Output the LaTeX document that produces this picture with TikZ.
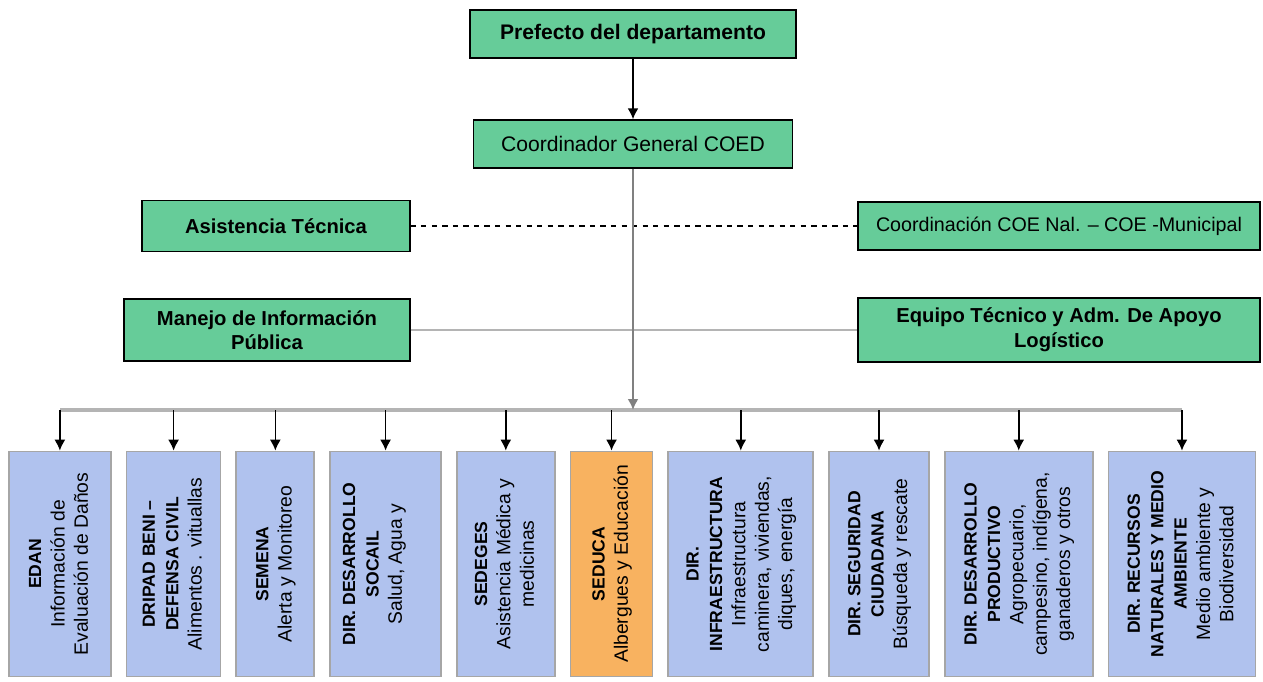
\documentclass[tikz,border=0pt]{standalone}
\usepackage{fontspec}
\setmainfont{Liberation Sans}
\usepackage{graphicx}
\usetikzlibrary{arrows.meta,positioning}

\definecolor{coegreen}{HTML}{66CC99}
\definecolor{unitblue}{HTML}{B0C2EE}
\definecolor{unitorange}{HTML}{F8B260}
\definecolor{linegray}{HTML}{B4B4B4}

\newcommand{\vlab}[1]{\rotatebox{90}{\fontsize{11}{13.3}\selectfont\begin{tabular}{@{}c@{}}#1\end{tabular}}}
\newcommand{\utitle}[1]{{\fontsize{10}{13.3}\selectfont\bfseries #1}}

\begin{document}
\begin{tikzpicture}[x=0.02cm,y=-0.02cm,node distance=0.28cm,>={Latex[length=2.2mm,width=2.2mm]},
  every node/.style={font=\fontsize{12}{14}\selectfont},
  greenbox/.style={draw=black,line width=0.8pt,fill=coegreen,align=center,inner sep=2pt},
  boldtext/.style={font=\fontsize{11.5}{14}\selectfont\bfseries},
  unitbox/.style={draw=gray!70,line width=1pt,fill=unitblue,minimum height=4.5cm,inner sep=0pt}]
\useasboundingbox (0,0) rectangle (1263,682);

% command levels
\node[greenbox,boldtext,font=\fontsize{12}{14}\selectfont\bfseries,minimum width=6.52cm,minimum height=0.96cm] (prefecto) at (633,34) {Prefecto del departamento};
\node[greenbox,minimum width=6.38cm,minimum height=0.96cm] (coord) at (633,144) {Coordinador General COED};
\node[greenbox,boldtext,minimum width=5.36cm,minimum height=1.02cm] (asist) at (276,226) {Asistencia Técnica};
\node[greenbox,font=\fontsize{11.2}{14}\selectfont,minimum width=8.04cm,minimum height=0.96cm] (coe) at (1059,226) {Coordinación COE Nal. – COE -Municipal};
\node[greenbox,boldtext,minimum width=5.72cm,minimum height=1.24cm] (manejo) at (267,330) {Manejo de Información\\Pública};
\node[greenbox,boldtext,minimum width=8.04cm,minimum height=1.28cm] (equipo) at (1059,330) {Equipo Técnico y Adm. De Apoyo\\Logístico};

% operative units
\node[unitbox,minimum width=2.04cm,anchor=west] (edan) at (8,564) {\vlab{\utitle{EDAN}\\Información de\\Evaluación de Daños}};
\node[unitbox,minimum width=1.88cm,right=of edan] (dripad) {\vlab{\utitle{DRIPAD BENI –}\\\utitle{DEFENSA CIVIL}\\Alimentos . vituallas}};
\node[unitbox,minimum width=1.56cm,right=of dripad] (semena) {\vlab{\utitle{SEMENA}\\Alerta y Monitoreo}};
\node[unitbox,minimum width=2.22cm,right=of semena] (dsocial) {\vlab{\utitle{DIR. DESARROLLO}\\\utitle{SOCAIL}\\Salud, Agua y\\\mbox{}}};
\node[unitbox,minimum width=1.96cm,right=of dsocial] (sedeges) {\vlab{\utitle{SEDEGES}\\Asistencia Médica y\\medicinas}};
\node[unitbox,fill=unitorange,minimum width=1.64cm,right=of sedeges] (seduca) {\vlab{\utitle{SEDUCA}\\Albergues y Educación}};
\node[unitbox,minimum width=2.9cm,right=of seduca] (dinfra) {\vlab{\utitle{DIR.}\\\utitle{INFRAESTRUCTURA}\\Infraestructura\\caminera, viviendas,\\diques, energía}};
\node[unitbox,minimum width=2cm,right=of dinfra] (dseg) {\vlab{\utitle{DIR. SEGURIDAD}\\\utitle{CIUDADANA}\\Búsqueda y rescate}};
\node[unitbox,minimum width=2.96cm,right=of dseg] (dprod) {\vlab{\utitle{DIR. DESARROLLO}\\\utitle{PRODUCTIVO}\\Agropecuario,\\campesino, indígena,\\ganaderos y otros}};
\node[unitbox,minimum width=2.94cm,right=of dprod] (drecur) {\vlab{\utitle{DIR. RECURSOS}\\\utitle{NATURALES Y MEDIO}\\\utitle{AMBIENTE}\\Medio ambiente y\\Biodiversidad}};

% connectors
\coordinate (bus) at (633,410);
\draw[dashed,line width=0.9pt] (asist) -- (coe);
\draw[linegray,line width=1.2pt] (manejo) -- (equipo);
\draw[->,line width=1pt] (prefecto) -- (coord);
\draw[linegray,line width=1.8pt] (edan.north |- bus) -- (drecur.north |- bus);
\draw[->,gray,line width=1.2pt] (coord) -- (bus);
\foreach \u in {edan,dripad,semena,dsocial,sedeges,seduca,dinfra,dseg,dprod,drecur}
  \draw[->,line width=0.9pt] (\u.north |- bus) -- (\u.north);
\end{tikzpicture}
\end{document}
